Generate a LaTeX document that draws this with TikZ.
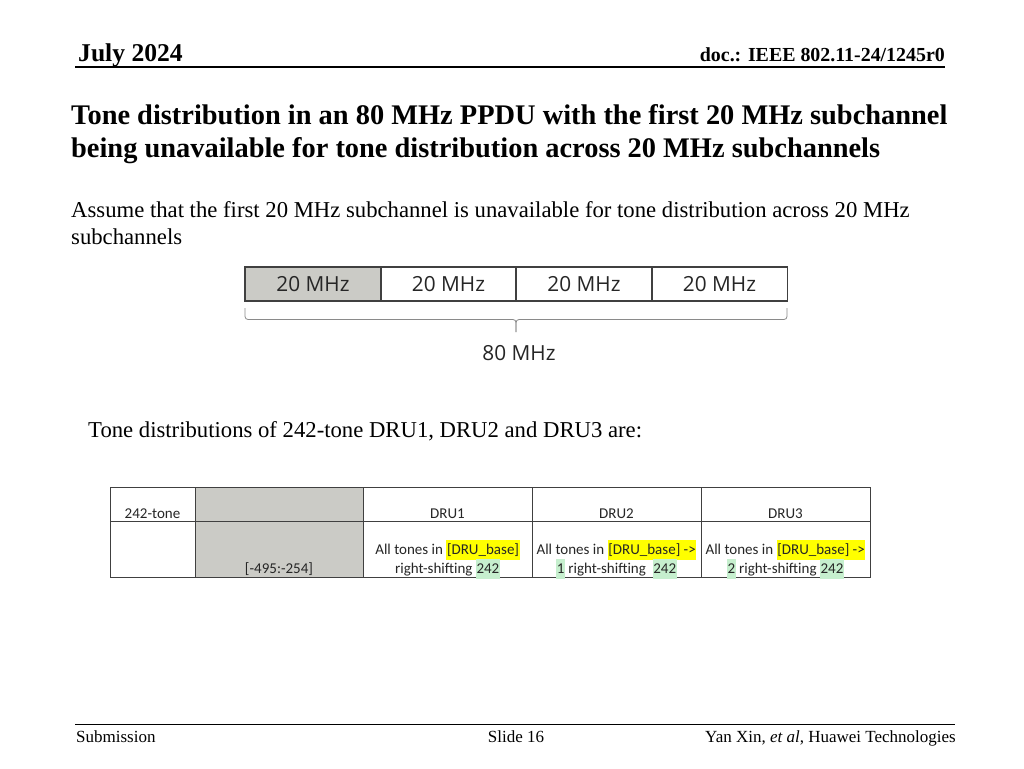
\documentclass[tikz,border=0pt]{standalone}
\usepackage{fontspec}
\setmainfont{Liberation Serif}
\newfontfamily\tabfont{Carlito}
\newfontfamily\boxfont{Open Sans}
\definecolor{greyfill}{HTML}{CBCBC6}
\definecolor{hlyellow}{HTML}{FFFF00}
\definecolor{hlgreen}{HTML}{C6EFCE}
\definecolor{linegrey}{HTML}{404040}
\definecolor{bracegrey}{HTML}{8A8A8A}
\newcommand{\hly}[1]{{\setlength{\fboxsep}{0.6pt}\colorbox{hlyellow}{\strut #1}}}
\newcommand{\hlg}[1]{{\setlength{\fboxsep}{0.6pt}\colorbox{hlgreen}{\strut #1}}}
\tikzset{
  hdrbig/.style={font=\fontsize{25.6}{30}\selectfont\bfseries, inner sep=0pt, anchor=base west},
  hdrsmall/.style={font=\fontsize{19.9}{24}\selectfont\bfseries, inner sep=0pt, anchor=base east},
  titletxt/.style={font=\fontsize{28.4}{34}\selectfont\bfseries, inner sep=0pt, anchor=base west},
  bodytxt/.style={font=\fontsize{22.7}{27}\selectfont, inner sep=0pt, anchor=base west},
  foottxt/.style={font=\fontsize{17}{20}\selectfont, inner sep=0pt},
  bwbox/.style={draw=linegrey, line width=1.3pt, minimum width=136pt, minimum height=34pt, inner sep=0pt, font=\boxfont\fontsize{20.8}{24}\selectfont, text=black!85},
  bwlabel/.style={font=\boxfont\fontsize{20.8}{24}\selectfont, inner sep=0pt, text=black!85},
  celltxt/.style={font=\tabfont\fontsize{15}{19}\selectfont, inner sep=0pt, anchor=base, text=black!85},
  tabline/.style={draw=linegrey, line width=1pt},
  rule/.style={line width=1.2pt, black}
}
\begin{document}
\begin{tikzpicture}[x=1pt,y=-1pt]
\useasboundingbox (0,0) rectangle (1024,768);
\fill[white] (0,0) rectangle (1024,768);
% header
\node[hdrbig] (hdate) at (78,61) {July 2024};
\node[hdrsmall] (hdoc) at (945,62) {doc.: IEEE 802.11-24/1245r0};
\coordinate (hl1) at (75,67);
\coordinate (hl2) at (945,67);
\draw[rule] (hl1) -- (hl2);
% title
\node[titletxt] (t1) at (71,124) {Tone distribution in an 80 MHz PPDU with the first 20 MHz subchannel};
\node[titletxt] (t2) at (71,157) {being unavailable for tone distribution across 20 MHz subchannels};
% body
\node[bodytxt] (p1) at (71,217) {Assume that the first 20 MHz subchannel is unavailable for tone distribution across 20 MHz};
\node[bodytxt] (p2) at (71,244) {subchannels};
% bandwidth boxes
\node[bwbox, fill=greyfill] (b1) at (313,284) {20 MHz};
\node[bwbox] (b2) at (448.5,284) {20 MHz};
\node[bwbox] (b3) at (584,284) {20 MHz};
\node[bwbox] (b4) at (719.5,284) {20 MHz};
% brace
\coordinate (brl) at (245,308);
\coordinate (brr) at (787,308);
\coordinate (brm) at (516,332);
\draw[bracegrey, line width=0.8pt, rounded corners=3pt] (brl) -- (245,319.5) -- (516,319.5) -- (brm);
\draw[bracegrey, line width=0.8pt, rounded corners=3pt] (brr) -- (787,319.5) -- (516,319.5) -- (brm);
\node[bwlabel] (b80) at (519,353) {80 MHz};
% second sentence
\node[bodytxt] (p3) at (88,437) {Tone distributions of 242-tone DRU1, DRU2 and DRU3 are:};
% table
\fill[greyfill] (195,487) rectangle (363,577);
\draw[tabline] (110,487) rectangle (870,577);
\draw[tabline] (110,521) -- (870,521);
\foreach \cx in {195,363,532,701}{\draw[tabline] (\cx,487) -- (\cx,577);}
\node[celltxt] (h1) at (152.5,518) {242-tone};
\node[celltxt] (h3) at (447.5,518) {DRU1};
\node[celltxt] (h4) at (616.5,518) {DRU2};
\node[celltxt] (h5) at (785.5,518) {DRU3};
\node[celltxt] (c2) at (279,573) {[-495:-254]};
\node[celltxt] (c3a) at (447.5,554) {All tones in \hly{[DRU\_base]}};
\node[celltxt] (c3b) at (447.5,573) {right-shifting \hlg{242}};
\node[celltxt] (c4a) at (616.5,554) {All tones in \hly{[DRU\_base] ->}};
\node[celltxt] (c4b) at (616.5,573) {\hlg{1} right-shifting\ \ \hlg{242}};
\node[celltxt] (c5a) at (785.5,554) {All tones in \hly{[DRU\_base] ->}};
\node[celltxt] (c5b) at (785.5,573) {\hlg{2} right-shifting \hlg{242}};
% footer
\coordinate (fl1) at (75,724);
\coordinate (fl2) at (955,724);
\draw[line width=1pt] (fl1) -- (fl2);
\node[foottxt, anchor=base west] (f1) at (76,742) {Submission};
\node[foottxt, anchor=base] (f2) at (516,742) {Slide 16};
\node[foottxt, anchor=base east] (f3) at (956,742) {Yan Xin, \textit{et al}, Huawei Technologies};
\end{tikzpicture}
\end{document}
